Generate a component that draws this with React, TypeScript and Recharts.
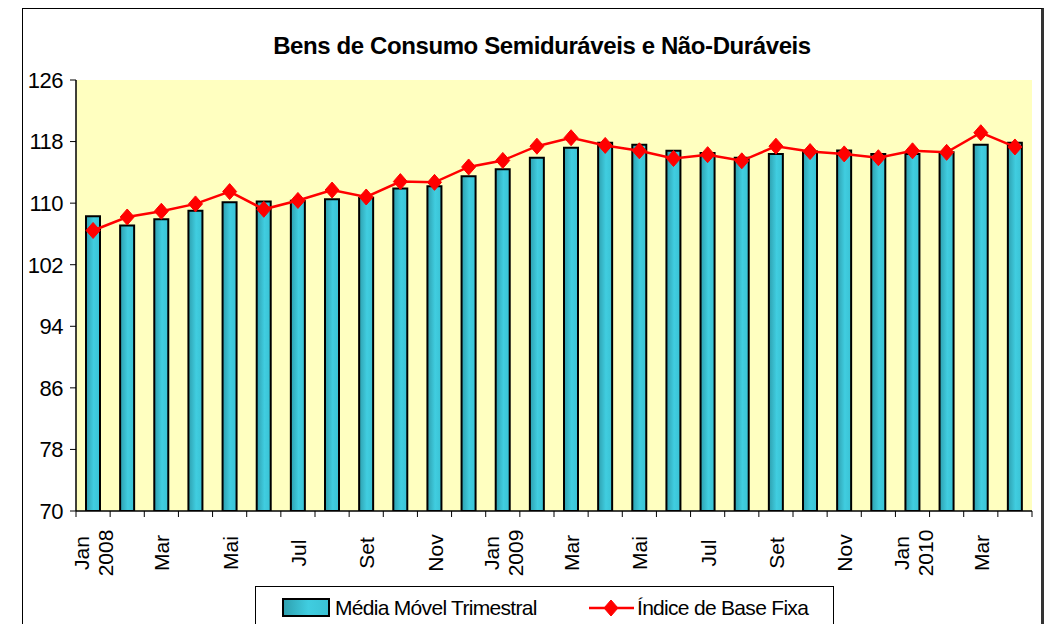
import React from "react";
import { Bar, ComposedChart, CartesianGrid, Line, XAxis, YAxis } from "recharts";

const MONTHS = [
  "Jan 2008", "Fev", "Mar", "Abr", "Mai", "Jun", "Jul", "Ago", "Set", "Out", "Nov", "Dez",
  "Jan 2009", "Fev", "Mar", "Abr", "Mai", "Jun", "Jul", "Ago", "Set", "Out", "Nov", "Dez",
  "Jan 2010", "Fev", "Mar", "Abr",
];

// Média móvel trimestral (barras)
const MEDIA_MOVEL = [
  108.3, 107.1, 107.9, 109.0, 110.1, 110.2, 110.3, 110.5, 110.7, 111.9, 112.2, 113.5,
  114.4, 115.9, 117.2, 117.85, 117.6, 116.8, 116.5, 115.9, 116.4, 116.7, 116.85, 116.4,
  116.4, 116.6, 117.6, 117.85,
];

// Índice de base fixa (linha)
const INDICE = [
  106.45, 108.2, 108.95, 109.9, 111.5, 109.2, 110.35, 111.7, 110.8, 112.8, 112.7, 114.7,
  115.55, 117.4, 118.5, 117.5, 116.8, 115.8, 116.3, 115.5, 117.4, 116.7, 116.4, 115.9,
  116.8, 116.6, 119.15, 117.3,
];

const Y_TICKS = [70, 78, 86, 94, 102, 110, 118, 126];

const TITLE = "Bens de Consumo Semiduráveis e Não-Duráveis";
const BAR_NAME = "Média Móvel Trimestral";
const LINE_NAME = "Índice de Base Fixa";

const FONT = "'Liberation Sans', Arial, sans-serif";
const PLOT_BG = "#FFFFC0";
const LINE_RED = "#FF0000";

const data = MONTHS.map((m, i) => ({ month: m, media: MEDIA_MOVEL[i], indice: INDICE[i], idx: i }));

function Diamond(props: any) {
  const { cx, cy } = props;
  if (cx == null || cy == null) return null;
  return (
    <path
      d={`M${cx},${cy - 8} L${cx + 7},${cy} L${cx},${cy + 8} L${cx - 7},${cy} Z`}
      fill={LINE_RED}
      stroke={LINE_RED}
      strokeWidth={1}
    />
  );
}

function MonthTick(props: any) {
  const { x, y, payload, index } = props;
  const half = payload?.offset || 17;
  const lines = String(payload.value).split(" ");
  const isLast = index === MONTHS.length - 1;
  return (
    <g>
      <line x1={x - half} x2={x - half} y1={y} y2={y + 6} stroke="#000" strokeWidth={1} />
      {isLast && <line x1={x + half} x2={x + half} y1={y} y2={y + 6} stroke="#000" strokeWidth={1} />}
      {index % 2 === 0 && (
        <text
          transform={`translate(${x},${y + 42}) rotate(-90)`}
          textAnchor="middle"
          fontSize={21}
          fontFamily={FONT}
          fill="#000"
        >
          {lines.map((l, i) => (
            <tspan key={i} x={0} y={8 + (i - (lines.length - 1) / 2) * 24}>
              {l}
            </tspan>
          ))}
        </text>
      )}
    </g>
  );
}

function LegendBox() {
  return (
    <div
      style={{
        position: "absolute",
        left: 255,
        top: 586,
        width: 577,
        height: 50,
        border: "1px solid #000",
        background: "#fff",
        fontFamily: FONT,
        fontSize: 21,
        letterSpacing: -0.7,
      }}
    >
      <svg width={60} height={30} style={{ position: "absolute", left: 25, top: 6 }}>
        <defs>
          <linearGradient id="legGrad" x1="0" y1="0" x2="1" y2="0">
            <stop offset="0%" stopColor="#2E9FAE" />
            <stop offset="55%" stopColor="#40CDE0" />
            <stop offset="100%" stopColor="#3AC2D4" />
          </linearGradient>
        </defs>
        <rect x={2} y={6} width={46} height={17} fill="url(#legGrad)" stroke="#000" strokeWidth={2} />
      </svg>
      <span style={{ position: "absolute", left: 79, top: 9 }}>{BAR_NAME}</span>
      <svg width={50} height={30} style={{ position: "absolute", left: 332, top: 6 }}>
        <line x1={1} x2={46} y1={15} y2={15} stroke={LINE_RED} strokeWidth={2.5} />
        <Diamond cx={23} cy={15} />
      </svg>
      <span style={{ position: "absolute", left: 381, top: 9 }}>{LINE_NAME}</span>
    </div>
  );
}

export default function App() {
  return (
    <div style={{ position: "absolute", left: 0, top: 0, width: 1047, height: 624, background: "#fff", overflow: "hidden" }}>
      <div
        style={{
          position: "absolute",
          left: 22,
          top: 8,
          width: 1018,
          height: 660,
          borderTop: "1px solid #000",
          borderLeft: "1px solid #000",
          borderRight: "3px solid #333",
        }}
      />
      <div
        style={{
          position: "absolute",
          left: 0,
          width: 1084,
          top: 32,
          textAlign: "center",
          fontFamily: FONT,
          fontWeight: "bold",
          fontSize: 24,
          letterSpacing: -0.4,
          color: "#000",
        }}
      >
        {TITLE}
      </div>
      <div style={{ position: "absolute", left: 0, top: 0 }}>
        <ComposedChart
          width={1047}
          height={624}
          data={data}
          margin={{ top: 80, right: 15, left: 22, bottom: 43 }}
          barSize={14}
        >
          <defs>
            <linearGradient id="barGrad" x1="0" y1="0" x2="1" y2="0">
              <stop offset="0%" stopColor="#2E9FAE" />
              <stop offset="55%" stopColor="#40CDE0" />
              <stop offset="100%" stopColor="#3AC2D4" />
            </linearGradient>
          </defs>
          <CartesianGrid horizontal={false} vertical={false} fill={PLOT_BG} />
          <XAxis
            xAxisId="top"
            orientation="top"
            dataKey="month"
            height={0}
            tick={false}
            tickLine={false}
            axisLine={{ stroke: "#808080", strokeWidth: 2 }}
          />
          <YAxis
            yAxisId="right"
            orientation="right"
            width={0}
            type="number"
            domain={[0, 1]}
            tick={false}
            tickLine={false}
            axisLine={{ stroke: "#808080", strokeWidth: 2 }}
          />
          <XAxis
            dataKey="month"
            height={70}
            interval={0}
            tickSize={0}
            tickMargin={0}
            tickLine={false}
            axisLine={{ stroke: "#000", strokeWidth: 1.5 }}
            tick={<MonthTick />}
          />
          <YAxis
            width={54}
            domain={[70, 126]}
            ticks={Y_TICKS}
            interval={0}
            allowDataOverflow
            tickSize={6}
            tickMargin={7}
            axisLine={{ stroke: "#000", strokeWidth: 1.5 }}
            tickLine={{ stroke: "#000" }}
            tick={{ fontSize: 22, fontFamily: FONT, fill: "#000", letterSpacing: -0.5 }}
          />
          <Bar
            dataKey="media"
            name={BAR_NAME}
            fill="url(#barGrad)"
            stroke="#000"
            strokeWidth={2}
            isAnimationActive={false}
          />
          <Line
            dataKey="indice"
            name={LINE_NAME}
            type="linear"
            stroke={LINE_RED}
            strokeWidth={2.5}
            dot={<Diamond />}
            activeDot={false}
            isAnimationActive={false}
          />
        </ComposedChart>
      </div>
      <LegendBox />
    </div>
  );
}
